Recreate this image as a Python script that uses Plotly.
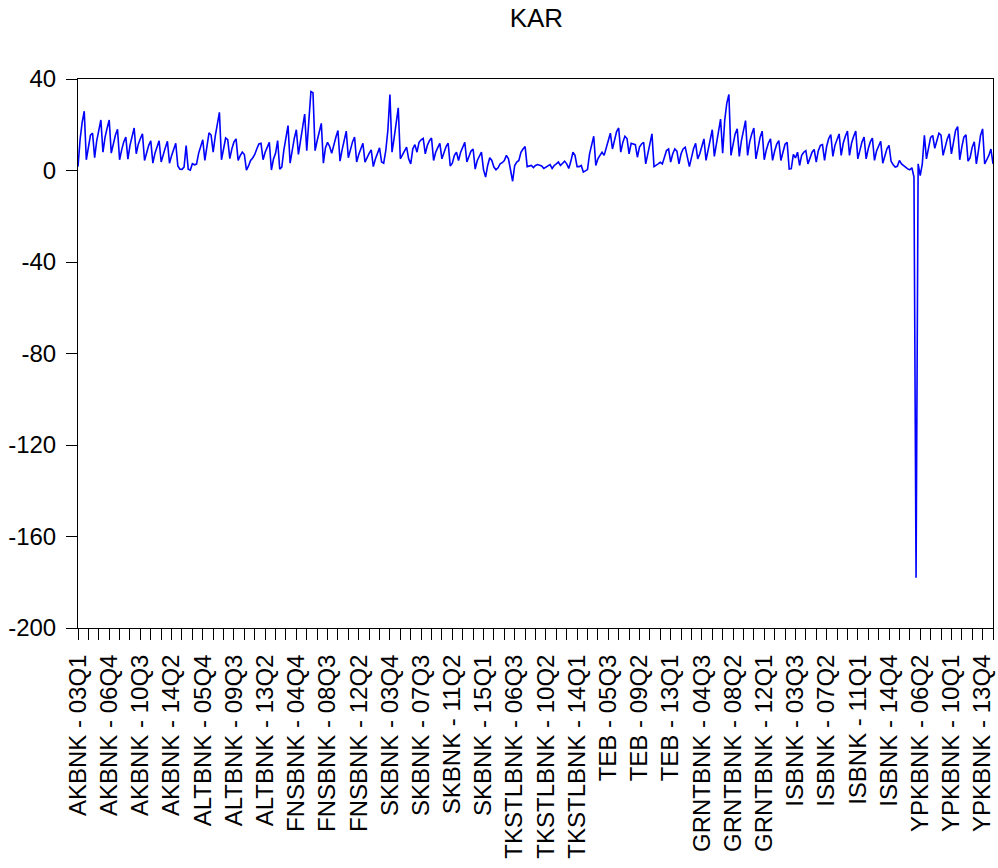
import plotly.graph_objects as go

banks = ["AKBNK", "ALTBNK", "FNSBNK", "SKBNK", "TKSTLBNK", "TEB", "GRNTBNK", "ISBNK", "YPKBNK"]
periods = [f"{y:02d}Q{q}" for y in range(3, 15) for q in range(1, 5)] + ["15Q1"]

AKBNK = [1.7, 13.5, 21.0, 25.9, 4.7, 11.0, 15.5, 16.3, 5.6, 13.0, 18.0, 22.1,
         8.0, 14.5, 18.5, 22.1, 7.6, 12.0, 15.5, 18.0, 4.7, 9.0, 12.5, 14.6,
         5.0, 11.0, 15.0, 18.6, 7.3, 11.5, 14.0, 16.0, 4.4, 8.0, 11.0, 13.0,
         3.2, 7.5, 10.5, 13.0, 3.7, 7.5, 10.0, 12.8, 3.2, 6.5, 9.5, 11.9, 2.0]
ALTBNK = [0.6, 0.5, 1.5, 10.9, 0.6, 0.2, 3.0, 2.5, 2.8, 7.5, 10.0, 13.4,
          4.4, 10.5, 16.5, 15.5, 8.0, 15.0, 20.5, 25.4, 4.7, 10.0, 14.2, 13.5,
          5.2, 9.5, 12.5, 13.8, 4.4, 6.5, 8.0, 7.0, 0.2, 2.0, 4.4, 5.5,
          7.0, 9.5, 11.6, 11.9, 4.7, 8.0, 10.5, 12.3, 0.2, 5.0, 7.5, 13.1, 0.6]
FNSBNK = [1.5, 9.0, 14.5, 19.6, 3.2, 9.0, 14.0, 17.8, 7.0, 13.0, 19.0, 24.7,
          8.7, 20.0, 34.5, 34.0, 8.7, 13.0, 17.0, 20.6, 3.2, 10.0, 12.3, 10.5,
          7.5, 11.5, 14.5, 17.5, 4.1, 9.0, 13.5, 17.2, 5.6, 9.5, 12.5, 14.6,
          3.7, 7.0, 9.5, 11.9, 3.7, 6.0, 7.5, 9.0, 1.7, 5.0, 7.5, 9.9, 3.7]
SKBNK = [3.2, 8.7, 17.5, 33.2, 8.0, 14.0, 21.0, 27.4, 5.1, 6.6, 8.7, 10.2,
         5.1, 2.9, 9.5, 11.3, 8.0, 12.3, 13.4, 14.0, 7.3, 11.0, 13.0, 14.2,
         4.4, 8.0, 10.0, 11.9, 5.1, 8.0, 10.5, 11.9, 2.0, 3.2, 6.6, 8.0,
         4.4, 8.0, 10.2, 12.3, 3.7, 6.5, 8.5, 9.4, 0.6, 4.4, 6.6, 8.0, 0.4]
TKSTLBNK = [-2.9, 2.2, 5.6, 4.4, 1.5, 0.3, 1.2, 2.9, 3.4, 4.4, 6.6, 5.1,
            0.0, -4.7, 2.2, 3.7, 4.4, 8.0, 9.4, 10.5, 1.7, 1.8, 2.2, 1.3,
            2.2, 2.6, 2.2, 2.0, 0.9, 1.5, 2.2, 2.6, 0.9, 2.2, 2.9, 3.7,
            2.2, 3.2, 4.1, 2.9, 0.9, 4.0, 8.0, 6.6, 1.7, 1.7, 2.2, -0.7, -0.3]
TEB = [0.4, 7.3, 11.6, 15.0, 2.2, 5.1, 6.6, 8.0, 6.6, 10.2, 13.8, 16.3,
       9.4, 13.8, 17.0, 18.6, 8.0, 12.3, 15.0, 14.0, 7.3, 11.9, 11.6, 11.3,
       5.8, 10.2, 11.6, 12.3, 2.9, 7.3, 11.6, 16.0, 1.7, 2.2, 2.9, 3.6,
       2.9, 5.8, 8.7, 9.4, 3.7, 7.3, 9.4, 8.5, 2.9, 7.3, 9.4, 10.2, 6.5]
GRNTBNK = [1.7, 5.6, 9.5, 11.9, 5.1, 7.3, 10.2, 13.8, 4.4, 9.0, 14.5, 17.8,
           6.2, 12.0, 18.0, 22.5, 7.6, 22.0, 29.5, 33.2, 6.6, 12.0, 16.0, 18.2,
           6.2, 13.0, 18.0, 21.8, 6.6, 12.5, 16.0, 18.6, 5.1, 10.5, 14.5, 17.2,
           4.7, 9.0, 12.0, 13.8, 4.4, 8.5, 11.5, 13.1, 4.4, 8.0, 11.5, 12.3, 0.6]
ISBNK = [0.8, 7.0, 5.5, 8.0, 2.2, 6.6, 8.0, 8.7, 2.9, 5.6, 8.0, 9.2,
         3.7, 8.7, 11.0, 11.3, 4.4, 10.5, 14.0, 15.7, 6.2, 11.0, 14.0, 16.0,
         6.6, 12.0, 15.0, 17.2, 6.6, 12.0, 15.0, 17.2, 5.1, 9.5, 12.5, 14.6,
         5.1, 9.5, 12.5, 14.2, 4.4, 8.5, 11.0, 12.8, 3.2, 7.0, 9.5, 11.0, 4.0]
YPKBNK = [2.5, 1.5, 1.8, 4.4, 2.9, 2.2, 1.2, 0.7, 0.3, 1.2, -2.9, -178.0,
          2.9, -2.2, 2.9, 15.4, 5.1, 10.0, 14.5, 15.3, 9.7, 13.0, 16.3, 15.5,
          6.6, 10.2, 13.8, 16.0, 7.3, 12.3, 17.5, 19.2, 4.7, 10.2, 14.6, 15.6,
          4.1, 5.6, 10.2, 12.5, 2.9, 8.7, 15.3, 18.2, 2.9, 4.7, 6.6, 9.4, 2.9]

series = [AKBNK, ALTBNK, FNSBNK, SKBNK, TKSTLBNK, TEB, GRNTBNK, ISBNK, YPKBNK]
y_ticks = [-200, -160, -120, -80, -40, 0, 40]
y_tick_text = ["-200", "-160", "-120", "-80", "-40", "0", "40"]

labels = []
values = []
for b, s in zip(banks, series):
    for p, v in zip(periods, s):
        labels.append(f"{b} - {p}")
        values.append(v)
x = list(range(len(values)))

major = x[::15]
minor = x[::5]

FONT = "Liberation Sans, Arial, sans-serif"
FS = 24

fig = go.Figure()
fig.add_trace(go.Scatter(x=x, y=values, mode="lines",
                         line=dict(color="#0000FF", width=1.6),
                         hoverinfo="skip", showlegend=False))

fig.update_layout(
    width=998, height=868,
    margin=dict(l=78, r=3, t=79, b=240),
    paper_bgcolor="white", plot_bgcolor="white",
    font=dict(family=FONT, size=FS, color="black"),
    title=dict(text="KAR", x=0.5375, xanchor="center", y=0.979, yanchor="middle",
               font=dict(family=FONT, size=26, color="black")),
)
fig.update_xaxes(
    range=[0, len(values) - 1],
    tickmode="array", tickvals=major, ticktext=[labels[i] for i in major],
    tickangle=-90, ticks="outside", ticklen=11, tickwidth=1, tickcolor="black",
    minor=dict(tickmode="array", tickvals=minor, ticks="outside", ticklen=11,
               tickwidth=1, tickcolor="black", showgrid=False),
    showline=True, linecolor="black", linewidth=1, mirror=True,
    showgrid=False, zeroline=False, ticklabelstandoff=5,
    tickfont=dict(family=FONT, size=FS, color="black"),
)
fig.update_yaxes(
    range=[-200, 40], tickmode="array", tickvals=y_ticks, ticktext=y_tick_text,
    ticks="outside", ticklen=11, tickwidth=1, tickcolor="black",
    showline=True, linecolor="black", linewidth=1, mirror=True,
    showgrid=False, zeroline=False, ticklabelstandoff=5,
    tickfont=dict(family=FONT, size=FS, color="black"),
)

fig.write_html("out.html")
